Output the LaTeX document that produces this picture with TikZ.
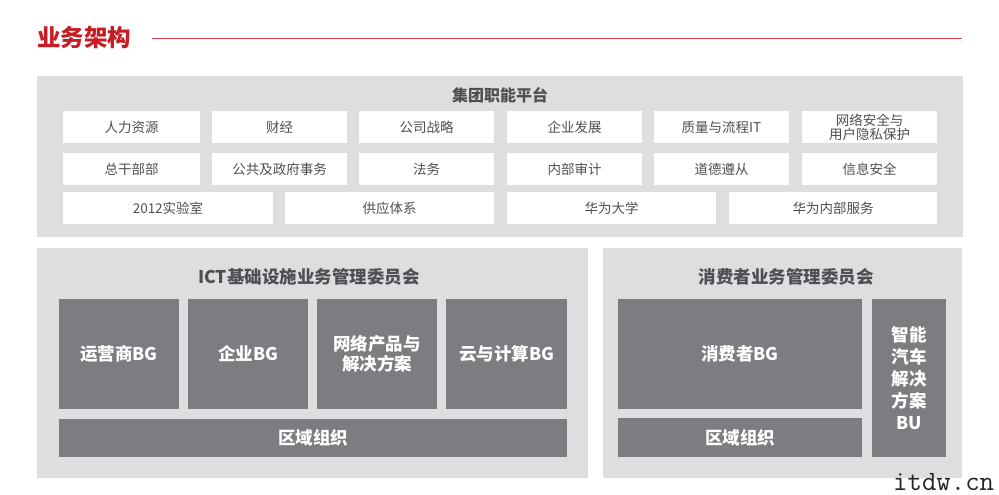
\documentclass[tikz,border=0pt]{standalone}
\usepackage{fontspec}
\setmainfont{Noto Sans CJK SC}
\definecolor{hwred}{RGB}{200,28,36}
\definecolor{hwline}{RGB}{214,70,76}
\definecolor{panelgray}{RGB}{221,222,224}
\definecolor{darkbox}{RGB}{124,125,129}
\definecolor{txtgray}{RGB}{78,79,83}
\tikzset{
  x=1pt, y=-1pt,
  panel/.style={fill=panelgray, draw=none},
  wbox/.style={fill=white, draw=none, inner sep=0pt, align=center, text=txtgray,
    font=\fontsize{13.5}{15}\selectfont, minimum height=32pt},
  dbox/.style={fill=darkbox, draw=none, inner sep=0pt, align=center, text=white,
    font=\fontsize{17.5}{20.5}\bfseries\selectfont},
  ptitle/.style={text=txtgray, inner sep=0pt, font=\fontsize{17.5}{20}\bfseries\selectfont},
}
\begin{document}
\begin{tikzpicture}
\useasboundingbox (0,0) rectangle (999,495);
\fill[white] (0,0) rectangle (999,495);
% heading
\node[anchor=west, text=hwred, inner sep=0pt, font=\fontsize{23.5}{25}\bfseries\selectfont] (head) at (37,38) {业务架构};
\coordinate (linestart) at (152,39);
\coordinate (lineend) at (962,39);
\draw[hwline, line width=1pt] (linestart) -- (lineend);
% top panel
\fill[panel] (37,76) rectangle (963,237);
\node[text=txtgray, inner sep=0pt, font=\fontsize{16}{18}\bfseries\selectfont] (toptitle) at (500,95) {集团职能平台};
% row 1
\node[wbox, minimum width=137pt] (r11) at (131.5,127) {人力资源};
\node[wbox, minimum width=135pt] (r12) at (279.5,127) {财经};
\node[wbox, minimum width=135pt] (r13) at (426.5,127) {公司战略};
\node[wbox, minimum width=135pt] (r14) at (574.5,127) {企业发展};
\node[wbox, minimum width=135pt] (r15) at (721.5,127) {质量与流程IT};
\node[wbox, minimum width=135pt, font=\fontsize{13.5}{14}\selectfont] (r16) at (869.5,127) {网络安全与\\用户隐私保护};
% row 2
\node[wbox, minimum width=137pt] (r21) at (131.5,169) {总干部部};
\node[wbox, minimum width=135pt] (r22) at (279.5,169) {公共及政府事务};
\node[wbox, minimum width=135pt] (r23) at (426.5,169) {法务};
\node[wbox, minimum width=135pt] (r24) at (574.5,169) {内部审计};
\node[wbox, minimum width=135pt] (r25) at (721.5,169) {道德遵从};
\node[wbox, minimum width=135pt] (r26) at (869.5,169) {信息安全};
% row 3
\node[wbox, minimum width=210pt] (r31) at (168,208) {2012实验室};
\node[wbox, minimum width=209pt] (r32) at (389.5,208) {供应体系};
\node[wbox, minimum width=209pt] (r33) at (611.5,208) {华为大学};
\node[wbox, minimum width=208pt] (r34) at (833,208) {华为内部服务};
% ICT panel
\fill[panel] (37,248) rectangle (588,478);
\node[ptitle] (icttitle) at (309,277) {ICT基础设施业务管理委员会};
\node[dbox, minimum width=120pt, minimum height=110pt] (ict1) at (119,354) {运营商BG};
\node[dbox, minimum width=120pt, minimum height=110pt] (ict2) at (248,354) {企业BG};
\node[dbox, minimum width=120pt, minimum height=110pt] (ict3) at (377,354) {网络产品与\\解决方案};
\node[dbox, minimum width=121pt, minimum height=110pt] (ict4) at (506.5,354) {云与计算BG};
\node[dbox, minimum width=508pt, minimum height=38pt] (ictreg) at (313,438) {区域组织};
% consumer panel
\fill[panel] (603,248) rectangle (962,478);
\node[ptitle] (contitle) at (786,277) {消费者业务管理委员会};
\node[dbox, minimum width=244pt, minimum height=110pt] (conbg) at (740,354) {消费者BG};
\node[dbox, minimum width=244pt, minimum height=39pt] (conreg) at (740,437.5) {区域组织};
\node[dbox, minimum width=74pt, minimum height=158pt, font=\fontsize{17.5}{22}\bfseries\selectfont] (car) at (909,378) {智能\\汽车\\解决\\方案\\BU};
% watermark
\node[anchor=base west, inner sep=0pt, text=black!85, font=\ttfamily\fontsize{28}{28}\selectfont] (wm) at (893,490) {itdw.cn};
\end{tikzpicture}
\end{document}
